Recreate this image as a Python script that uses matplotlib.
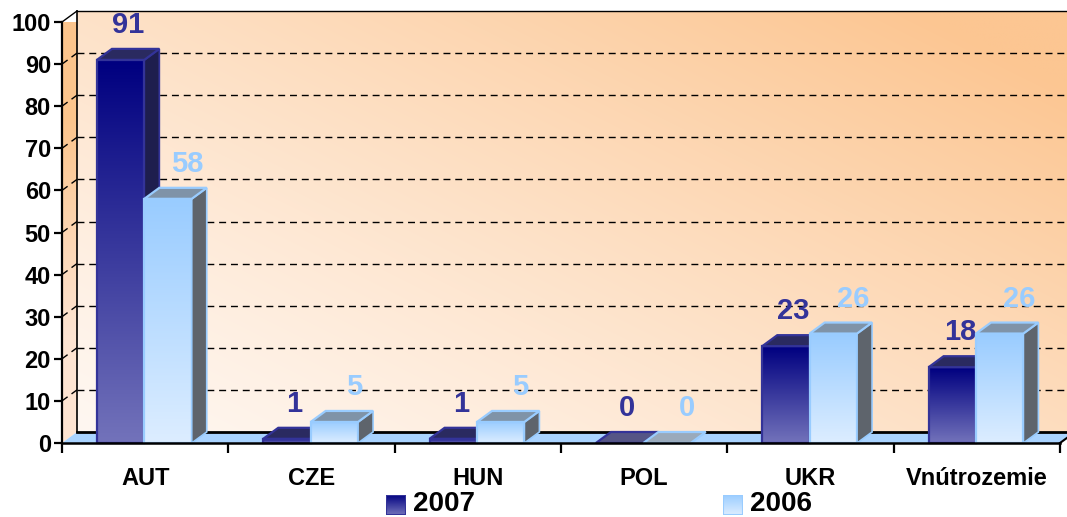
import numpy as np
import matplotlib
matplotlib.use("Agg")
import matplotlib.pyplot as plt
from matplotlib.patches import Polygon, Rectangle
from matplotlib.colors import to_rgb

plt.rcParams['font.family'] = ['Liberation Sans', 'DejaVu Sans']
plt.rcParams['font.weight'] = 'bold'

categories = ["AUT", "CZE", "HUN", "POL", "UKR", "Vnútrozemie"]
series_names = ["2007", "2006"]
values_2007 = [91, 1, 1, 0, 23, 18]
values_2006 = [58, 5, 5, 0, 26, 26]
y_ticks = [0, 10, 20, 30, 40, 50, 60, 70, 80, 90, 100]

W, H = 1067, 517
fig = plt.figure(figsize=(W / 100, H / 100), dpi=100)
ax = fig.add_axes([62 / W, 74 / H, 998 / W, 421 / H])
ax.set_xlim(0, len(categories))
ax.set_ylim(0, 100)
ax.set_facecolor('none')

# depth offset (3D look)
DX = 15 / 166.3
DY = 11 / 4.21
YMAX = 100
NC = len(categories)


def grad_fill(poly_xy, c_top, c_bot, z, extent):
    poly = Polygon(poly_xy, closed=True, facecolor='none', edgecolor='none', zorder=z)
    ax.add_patch(poly)
    n = 64
    t = np.linspace(0, 1, n)[:, None]
    c1 = np.array(to_rgb(c_top)); c2 = np.array(to_rgb(c_bot))
    img = (c1[None, None, :] * (1 - t[..., None]) + c2[None, None, :] * t[..., None])
    img = np.repeat(img, 2, axis=1)
    im = ax.imshow(img, extent=extent, aspect='auto', origin='upper', zorder=z,
                   interpolation='bilinear')
    im.set_clip_path(poly)
    return im


# ---- back wall with diagonal gradient
n = 200
u = np.linspace(0, 1, n)[None, :]
v = np.linspace(1, 0, n)[:, None]
t = np.clip((u * 0.65 + v * 0.55), 0, 1.1) / 1.1
t = t ** 1.2
c_light = np.array([255, 247, 241]) / 255
c_dark = np.array([252, 198, 146]) / 255
wall = c_light[None, None, :] * (1 - t[..., None]) + c_dark[None, None, :] * t[..., None]
im = ax.imshow(wall, extent=[DX, NC + DX, DY, YMAX + DY], aspect='auto', zorder=0,
               interpolation='bilinear')
im.set_clip_on(False)

# ---- left side wall
side_poly = [(0, 0), (DX, DY), (DX, YMAX + DY), (0, YMAX)]
p = Polygon(side_poly, closed=True, facecolor='none', edgecolor='none')
ax.add_patch(p); p.set_clip_on(False)
sidec = np.array([[to_rgb('#fbc48c')], [to_rgb('#fde4d2')]])
sidec = np.repeat(sidec, 2, axis=1)
im2 = ax.imshow(sidec, extent=[0, DX, 0, YMAX + DY], aspect='auto', zorder=0,
                interpolation='bilinear')
im2.set_clip_path(p)

# ---- floor
floor_xy = [(0, 0), (NC, 0), (NC + DX, DY), (DX, DY)]
fp = Polygon(floor_xy, closed=True, facecolor='#a9d3ff', edgecolor='none', zorder=1)
fp.set_clip_on(False)
ax.add_patch(fp)

# ---- gridlines
dash = (0, (5, 3.5))
for yv in y_ticks[1:]:
    ls = '-' if yv == YMAX else dash
    ax.plot([DX, NC + DX], [yv + DY, yv + DY], color='black', lw=1.0, ls=ls,
            zorder=2, clip_on=False)
    ax.plot([0, DX], [yv, yv + DY], color='black', lw=1.0, ls=ls, zorder=2,
            clip_on=False)
# wall frame
ax.plot([DX, DX], [DY, YMAX + DY], color='black', lw=1.2, zorder=2, clip_on=False)
ax.plot([DX, NC + DX], [DY, DY], color='black', lw=2.0, zorder=2, clip_on=False)
ax.plot([NC, NC + DX], [0, DY], color='black', lw=1.5, zorder=2, clip_on=False)

# ---- bars
BW = 0.285
B_OFF = [0.21, 0.495]
front_cols = [('#000080', '#7272ba'), ('#99ccff', '#dcedff')]
edge_cols = ['#333399', '#99ccff']
top_cols = [('#2a2a60', '#555586'), ('#7f93a8', '#9aaabb')]
side_cols = [('#0c0c3c', '#1e1e4e'), ('#4e6478', '#5e646c')]
label_cols = ['#333399', '#99ccff']
label_dx = [DX * 0.5, DX * 1.3]

z = 3
for i, cat in enumerate(categories):
    for s, vals in enumerate([values_2007, values_2006]):
        val = vals[i]
        x0 = i + B_OFF[s]
        x1 = x0 + BW
        if val > 0:
            grad_fill([(x0, 0), (x1, 0), (x1, val), (x0, val)],
                      front_cols[s][0], front_cols[s][1], z,
                      extent=[x0, x1, 0, val])
            ax.add_patch(Polygon([(x0, 0), (x1, 0), (x1, val), (x0, val)], closed=True,
                                 facecolor='none', edgecolor=edge_cols[s], lw=1.6,
                                 zorder=z + 0.1, clip_on=False))
        side = [(x1, 0), (x1 + DX, DY), (x1 + DX, val + DY), (x1, val)]
        ax.add_patch(Polygon(side, closed=True, facecolor=side_cols[s][1],
                             edgecolor=edge_cols[s], lw=1.2, zorder=z + 0.2,
                             clip_on=False))
        top = [(x0, val), (x1, val), (x1 + DX, val + DY), (x0 + DX, val + DY)]
        ax.add_patch(Polygon(top, closed=True,
                             facecolor=top_cols[s][0] if val > 0 else top_cols[s][1],
                             edgecolor=edge_cols[s], lw=1.6, zorder=z + 0.3,
                             clip_on=False))
        ax.annotate(str(val), (x0 + BW / 2 + label_dx[s], val + DY),
                    xytext=(0, 7), textcoords='offset points', ha='center',
                    va='bottom', fontsize=21, fontweight='bold',
                    color=label_cols[s], zorder=10, annotation_clip=False)
        z += 1

# ---- axes styling
for sp in ['top', 'right']:
    ax.spines[sp].set_visible(False)
ax.spines['left'].set_linewidth(1.6)
ax.spines['bottom'].set_linewidth(1.8)
ax.spines['left'].set_zorder(50)
ax.spines['bottom'].set_zorder(50)
ax.set_yticks(y_ticks)
ax.set_yticklabels([str(v) for v in y_ticks], fontsize=17, fontweight='bold')
ax.tick_params(axis='y', direction='out', length=6, width=1.6, pad=2)
ax.set_xticks(np.arange(0, NC + 1))
ax.set_xticklabels([])
ax.set_xticks(np.arange(NC) + 0.5, minor=True)
ax.set_xticklabels(categories, minor=True, fontsize=17, fontweight='bold')
ax.tick_params(axis='x', which='major', direction='out', length=7, width=1.6)
ax.tick_params(axis='x', which='minor', length=0, pad=17)

# ---- legend (manual)
leg_items = [(386, series_names[0], front_cols[0], edge_cols[0]),
             (723, series_names[1], front_cols[1], edge_cols[1])]
for xpx, name, cols, ec in leg_items:
    lax = fig.add_axes([xpx / W, (517 - 515) / H, 20 / W, 20 / H])
    g = np.linspace(0, 1, 32)[:, None]
    c1 = np.array(to_rgb(cols[0])); c2 = np.array(to_rgb(cols[1]))
    img = c1[None, None, :] * (1 - g[..., None]) + c2[None, None, :] * g[..., None]
    lax.imshow(np.repeat(img, 2, axis=1), aspect='auto', extent=[0, 1, 0, 1])
    lax.add_patch(Rectangle((0, 0), 1, 1, facecolor='none', edgecolor=ec, lw=1.5))
    lax.set_axis_off()
    fig.text((xpx + 27) / W, (517 - 504) / H, name, fontsize=20, fontweight='bold',
             va='center', ha='left', color='black')

fig.savefig('out.png', dpi=100)
